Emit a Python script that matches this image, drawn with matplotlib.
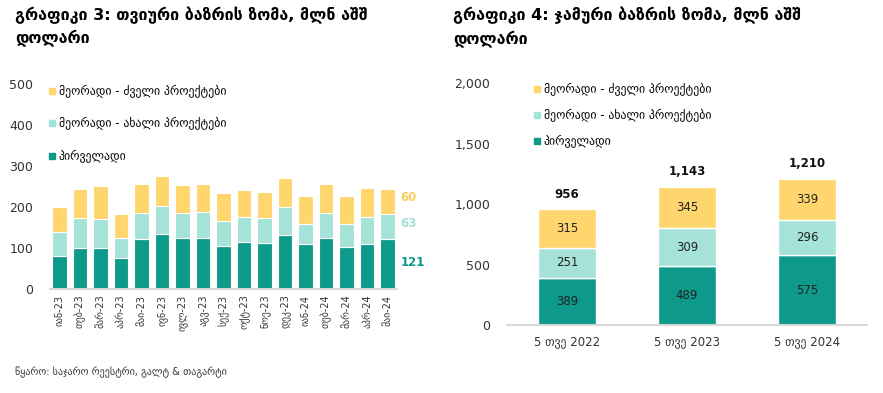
import matplotlib
matplotlib.use('Agg')
import matplotlib.pyplot as plt
from matplotlib.lines import Line2D
import numpy as np

plt.rcParams['font.family'] = ['DejaVu Sans']

# --- data: chart 3 (monthly) ---
months = ['იან-23', 'თებ-23', 'მარ-23', 'აპრ-23', 'მაი-23', 'ივნ-23', 'ივლ-23',
          'აგვ-23', 'სექ-23', 'ოქტ-23', 'ნოე-23', 'დეკ-23', 'იან-24', 'თებ-24',
          'მარ-24', 'აპრ-24', 'მაი-24']
primary_m = [80, 99, 100, 76, 121, 135, 125, 124, 104, 114, 113, 131, 109, 124, 102, 110, 121]
sec_new_m = [58, 73, 70, 48, 64, 67, 61, 64, 62, 62, 61, 68, 50, 61, 57, 66, 63]
sec_old_m = [63, 73, 80, 60, 71, 74, 68, 68, 67, 66, 63, 72, 69, 71, 69, 70, 60]

# --- data: chart 4 (5 months cumulative) ---
periods = ['5 თვე 2022', '5 თვე 2023', '5 თვე 2024']
primary_y = [389, 489, 575]
sec_new_y = [251, 309, 296]
sec_old_y = [315, 345, 339]
totals_y = [956, 1143, 1210]

lbl_old = 'მეორადი - ძველი პროექტები'
lbl_new = 'მეორადი - ახალი პროექტები'
lbl_prim = 'პირველადი'

c_dark = '#0E9A8B'
c_light = '#A5E2D8'
c_yel = '#FFD66E'
c_axis = '#D9D9D9'
c_txt = '#333333'

fig = plt.figure(figsize=(8.83, 3.93), dpi=100)

fig.text(15/883, 1-7/393, 'გრაფიკი 3: თვიური ბაზრის ზომა, მლნ აშშ\nდოლარი',
         fontsize=11.5, fontweight='bold', va='top', ha='left', linespacing=1.45)
fig.text(453/883, 1-7/393, 'გრაფიკი 4: ჯამური ბაზრის ზომა, მლნ აშშ\nდოლარი',
         fontsize=11.5, fontweight='bold', va='top', ha='left', linespacing=1.45)
fig.text(15/883, 1-372/393, 'წყარო: საჯარო რეესტრი, გალტ & თაგარტი',
         fontsize=7.2, color=c_txt, va='center', ha='left')


def style_axes(ax):
    for s in ['top', 'right', 'left']:
        ax.spines[s].set_visible(False)
    ax.spines['bottom'].set_color(c_axis)
    ax.spines['bottom'].set_linewidth(1.5)
    ax.tick_params(length=0, colors=c_txt)


def add_legend(ax, anchor, spacing):
    handles = [Line2D([], [], marker='s', ls='', color=c, markersize=5)
               for c in (c_yel, c_light, c_dark)]
    ax.legend(handles, [lbl_old, lbl_new, lbl_prim], loc='upper left',
              bbox_to_anchor=anchor, bbox_transform=fig.transFigure,
              frameon=False, fontsize=8.5, labelspacing=spacing,
              handlelength=0.6, handletextpad=0.3, borderpad=0, borderaxespad=0)


# ---------- left chart ----------
ax1 = fig.add_axes([50/883, 1-289/393, 347/883, 205/393])
x = np.arange(len(months))
w = 0.7
ax1.bar(x, primary_m, w, color=c_dark, edgecolor='white', linewidth=0.8)
ax1.bar(x, sec_new_m, w, bottom=primary_m, color=c_light, edgecolor='white', linewidth=0.8)
b2 = np.array(primary_m) + np.array(sec_new_m)
ax1.bar(x, sec_old_m, w, bottom=b2, color=c_yel, edgecolor='white', linewidth=0.8)
ax1.set_xlim(-0.46, len(months) - 0.54)
ax1.set_ylim(0, 500)
ax1.set_yticks([0, 100, 200, 300, 400, 500])
ax1.tick_params(axis='y', labelsize=9, pad=12)
ax1.set_xticks(x)
ax1.set_xticklabels(months, rotation=90, fontsize=7)
ax1.tick_params(axis='x', pad=4)
style_axes(ax1)

last = len(months) - 1
lx = last + 0.62
ax1.text(lx, primary_m[last] / 2 + 4, str(primary_m[last]), color=c_dark,
         fontsize=8.5, fontweight='bold', va='center', ha='left', clip_on=False)
ax1.text(lx, primary_m[last] + sec_new_m[last] / 2 + 8, str(sec_new_m[last]), color=c_light,
         fontsize=8.5, fontweight='bold', va='center', ha='left', clip_on=False)
ax1.text(lx, b2[last] + sec_old_m[last] / 2 + 8, str(sec_old_m[last]), color='#F5CF5F',
         fontsize=8.5, fontweight='bold', va='center', ha='left', clip_on=False)
add_legend(ax1, (48/883, 1-85/393), 1.62)

# ---------- right chart ----------
ax2 = fig.add_axes([507/883, 1-325/393, 360/883, 242/393])
xp = np.arange(len(periods))
wp = 0.49
ax2.bar(xp, primary_y, wp, color=c_dark, edgecolor='white', linewidth=1)
ax2.bar(xp, sec_new_y, wp, bottom=primary_y, color=c_light, edgecolor='white', linewidth=1)
bp2 = np.array(primary_y) + np.array(sec_new_y)
ax2.bar(xp, sec_old_y, wp, bottom=bp2, color=c_yel, edgecolor='white', linewidth=1)
ax2.set_xlim(-0.5, 2.5)
ax2.set_ylim(0, 2000)
ax2.set_yticks([0, 500, 1000, 1500, 2000])
ax2.set_yticklabels(['0', '500', '1,000', '1,500', '2,000'])
ax2.tick_params(axis='y', labelsize=9, pad=12)
ax2.set_xticks(xp)
ax2.set_xticklabels(periods, fontsize=8.5)
ax2.tick_params(axis='x', pad=7)
style_axes(ax2)

for i in range(len(periods)):
    ax2.text(xp[i], primary_y[i] / 2, str(primary_y[i]), ha='center', va='center',
             fontsize=8.5, color='#222222')
    ax2.text(xp[i], primary_y[i] + sec_new_y[i] / 2, str(sec_new_y[i]), ha='center',
             va='center', fontsize=8.5, color='#222222')
    ax2.text(xp[i], bp2[i] + sec_old_y[i] / 2, str(sec_old_y[i]), ha='center',
             va='center', fontsize=8.5, color='#222222')
    ax2.text(xp[i], totals_y[i] + 70, f'{totals_y[i]:,}', ha='center', va='bottom',
             fontsize=8.5, fontweight='bold', color='#111111')
add_legend(ax2, (533/883, 1-83/393), 1.1)

fig.savefig('out.png', dpi=100)
